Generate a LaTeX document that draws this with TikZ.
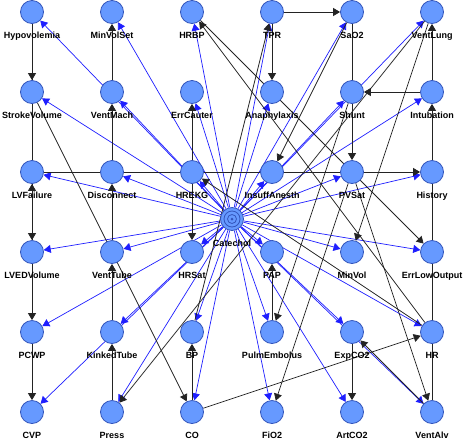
\documentclass[tikz,border=0pt]{standalone}
\usepackage{fontspec}
\setmainfont{Liberation Sans}
\usetikzlibrary{arrows.meta,backgrounds}
\definecolor{nodefill}{RGB}{102,153,255}
\definecolor{nodeedge}{RGB}{51,85,187}
\definecolor{edgeblk}{RGB}{35,35,35}
\definecolor{edgeblu}{RGB}{30,30,255}
\begin{document}
\begin{tikzpicture}[x=1pt,y=-1pt,
  bn/.style={circle,draw=nodeedge,fill=nodefill,minimum size=23pt,inner sep=0pt,line width=0.8pt},
  lbl/.style={font=\fontsize{9}{10}\selectfont\bfseries,anchor=base,inner sep=0pt},
  blk/.style={draw=edgeblk,line width=0.75pt,-{Triangle[length=7pt,width=8pt]}},
  blu/.style={draw=edgeblu,line width=0.7pt,-{Triangle[length=7pt,width=8pt]}}]
\useasboundingbox (0,0) rectangle (463,440);
\newcommand\bnode[4]{\node[bn] (#1) at (#2,#3) {}; \node[lbl] (#1-l) at (#2,#3+26) {#4};}
% row 1
\bnode{hypo}{32}{12}{Hypovolemia}
\bnode{mvs}{112}{12}{MinVolSet}
\bnode{hrbp}{192}{12}{HRBP}
\bnode{tpr}{272}{12}{TPR}
\bnode{sao2}{352}{12}{SaO2}
\bnode{vlung}{432}{12}{VentLung}
% row 2
\bnode{sv}{32}{92}{StrokeVolume}
\bnode{vmach}{112}{92}{VentMach}
\bnode{errc}{192}{92}{ErrCauter}
\bnode{ana}{272}{92}{Anaphylaxis}
\bnode{shunt}{352}{92}{Shunt}
\bnode{intub}{432}{92}{Intubation}
% row 3
\bnode{lvf}{32}{172}{LVFailure}
\bnode{disc}{112}{172}{Disconnect}
\bnode{hrekg}{192}{172}{HREKG}
\bnode{ins}{272}{172}{InsuffAnesth}
\bnode{pvsat}{352}{172}{PVSat}
\bnode{hist}{432}{172}{History}
% row 4
\bnode{lved}{32}{252}{LVEDVolume}
\bnode{vtube}{112}{252}{VentTube}
\bnode{hrsat}{192}{252}{HRSat}
\bnode{pap}{272}{252}{PAP}
\bnode{minvol}{352}{252}{MinVol}
\bnode{errlow}{432}{252}{ErrLowOutput}
% row 5
\bnode{pcwp}{32}{332}{PCWP}
\bnode{kink}{112}{332}{KinkedTube}
\bnode{bp}{192}{332}{BP}
\bnode{pulm}{272}{332}{PulmEmbolus}
\bnode{exp}{352}{332}{ExpCO2}
\bnode{hr}{432}{332}{HR}
% row 6
\bnode{cvp}{32}{412}{CVP}
\bnode{press}{112}{412}{Press}
\bnode{co}{192}{412}{CO}
\bnode{fio2}{272}{412}{FiO2}
\bnode{art}{352}{412}{ArtCO2}
\bnode{valv}{432}{412}{VentAlv}
% Catechol
\node[bn] (cat) at (232,219) {};
\draw[nodeedge,line width=0.8pt] (cat.center) circle (8pt) (cat.center) circle (4.5pt);
\fill[nodeedge] (cat.center) circle (1.5pt);
\node[lbl] (cat-l) at (232,246) {Catechol};
\begin{scope}[on background layer]
\fill[white] (0,0) rectangle (463,440);
\foreach \t in {hypo,mvs,hrbp,tpr,sao2,vlung,sv,vmach,errc,ana,shunt,intub,lvf,disc,hrekg,ins,pvsat,hist,lved,vtube,hrsat,pap,minvol,errlow,pcwp,kink,bp,pulm,exp,hr,cvp,press,co,fio2,art,valv}
  \draw[blu] (cat) -- (\t);
\draw[blk] (hypo) -- (sv);
\draw[blk] (hypo) -- (lved);
\draw[blk] (lved) -- (lvf);
\draw[blk] (lved) -- (pcwp);
\draw[blk] (pcwp) -- (cvp);
\draw[blk] (lvf) -- (hist);
\draw[blk] (sv) -- (co);
\draw[blk] (co) -- (bp);
\draw[blk] (co) -- (hr);
\draw[blk] (hr) -- (hrbp);
\draw[blk] (hrbp) -- (errlow);
\draw[blk] (hr) -- (hrekg);
\draw[blk] (hrekg) -- (errc);
\draw[blk] (hrekg) -- (hrsat);
\draw[blk] (tpr) -- (ana);
\draw[blk] (tpr) -- (sao2);
\draw[blk] (bp) -- (tpr);
\draw[blk] (sao2) -- (pvsat);
\draw[blk] (sao2) -- (ins);
\draw[blk] (intub) -- (shunt);
\draw[blk] (intub) -- (vlung);
\draw[blk] (valv) -- (intub);
\draw[blk] (vlung) -- (minvol);
\draw[blk] (vlung) -- (press);
\draw[blk] (press) -- (kink);
\draw[blk] (kink) -- (vtube);
\draw[blk] (vtube) -- (disc);
\draw[blk] (disc) -- (vmach);
\draw[blk] (vmach) -- (mvs);
\draw[blk] (pulm) -- (pap);
\draw[blk] (shunt) -- (pulm);
\draw[blk] (pvsat) -- (fio2);
\draw[blk] (exp) -- (art);
\draw[blk] (valv) -- (exp);
\draw[blk] (pvsat) -- (valv);
\end{scope}
\end{tikzpicture}
\end{document}
